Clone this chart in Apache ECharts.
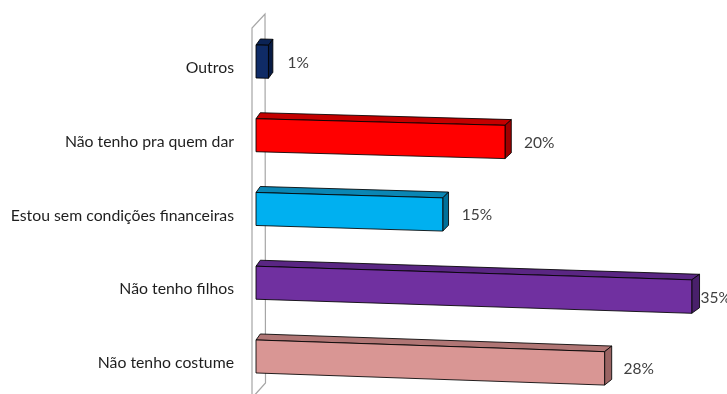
<!DOCTYPE html>
<html>
<head>
<meta charset="utf-8">
<script src="https://cdn.jsdelivr.net/npm/echarts@6/dist/echarts.min.js"></script>
<style>
  html, body { margin: 0; padding: 0; background: #ffffff; overflow: hidden; }
  #chart { width: 727px; height: 402px; }
</style>
</head>
<body>
<div id="chart"></div>
<script>
// Motivos (percentual de respostas)
const categories = [
  'Outros',
  'Não tenho pra quem dar',
  'Estou sem condições financeiras',
  'Não tenho filhos',
  'Não tenho costume'
];
const values = [1, 20, 15, 35, 28];

// Face shading for each box: front, top, right side
const frontColors = ['#0f2b66', '#ff0000', '#00b0f0', '#7030a0', '#d99694'];
const topColors   = ['#0b2355', '#c40000', '#0a86b4', '#5a2683', '#b07675'];
const sideColors  = ['#081b44', '#a00000', '#00709a', '#49206b', '#9a6463'];

const FONT = 'Lato, "Open Sans", sans-serif';
const W = 727;

// slight perspective: horizontal edges converge to a far-left vanishing point
const VY = -711, DIST = 31256;

function renderBox(params, api) {
  const idx = api.value(1);
  const val = api.value(0);
  const p0 = api.coord([0, idx]);
  const p1 = api.coord([val, idx]);
  const x0 = p0[0], x1 = p1[0], yc = p0[1];
  const yTop = yc - 23, yBot = yc + 10;

  const proj = (x, y) => [x, y + (x - x0) * (y - VY) / DIST];
  const back = (pt) => {
    const d = pt[0] - x0;
    return [pt[0] + 4.3 + 0.008 * d, pt[1] - 6 + 0.001 * d];
  };

  const fTL = proj(x0, yTop), fTR = proj(x1, yTop);
  const fBR = proj(x1, yBot), fBL = proj(x0, yBot);
  const bTL = back(fTL), bTR = back(fTR), bBR = back(fBR);

  const edge = { stroke: 'rgba(0,0,0,0.85)', lineWidth: 1, lineJoin: 'round' };
  const label = Math.round(val) + '%';
  // keep the value label inside the canvas, next to the box's side face
  let tx = x1 + 19;
  const tw = 30;
  if (tx + tw > W - 1) tx = Math.max(bTR[0] + 1, W - 1 - tw);
  const ty = (fTR[1] + fBR[1]) / 2 + 1;

  return {
    type: 'group',
    children: [
      { type: 'polygon', shape: { points: [fTL, fTR, bTR, bTL] },
        style: Object.assign({ fill: topColors[idx] }, edge) },
      { type: 'polygon', shape: { points: [fTR, bTR, bBR, fBR] },
        style: Object.assign({ fill: sideColors[idx] }, edge) },
      { type: 'polygon', shape: { points: [fTL, fTR, fBR, fBL] },
        style: Object.assign({ fill: frontColors[idx] }, edge) },
      { type: 'text', x: tx, y: ty,
        style: { text: label, fill: '#404040', font: '15.5px ' + FONT,
                 textAlign: 'left', textVerticalAlign: 'middle' } }
    ]
  };
}

const chart = echarts.init(document.getElementById('chart'), null, { renderer: 'canvas' });
chart.setOption({
  animation: false,
  backgroundColor: '#ffffff',
  grid: { left: 256, top: 31.1, height: 368.75, width: 435.75, containLabel: false },
  xAxis: { type: 'value', min: 0, max: 35, show: false },
  yAxis: {
    type: 'category',
    data: categories,
    inverse: true,
    axisLine: { show: false },
    axisTick: { show: false },
    splitLine: { show: false },
    axisLabel: { color: '#1e1e1e', fontSize: 15.8, fontFamily: FONT, margin: 22 }
  },
  // side wall of the 3D plot area
  graphic: [{
    type: 'polyline', z: 0, silent: true,
    shape: { points: [[252, 402], [252, 28], [265, 14], [265.5, 383], [252, 398]] },
    style: { stroke: '#a6a6a6', lineWidth: 1.2, fill: null }
  }],
  series: [{
    type: 'custom',
    z: 5,
    renderItem: renderBox,
    encode: { x: 0, y: 1 },
    data: values.map((v, i) => [v, i])
  }]
});
</script>
</body>
</html>
